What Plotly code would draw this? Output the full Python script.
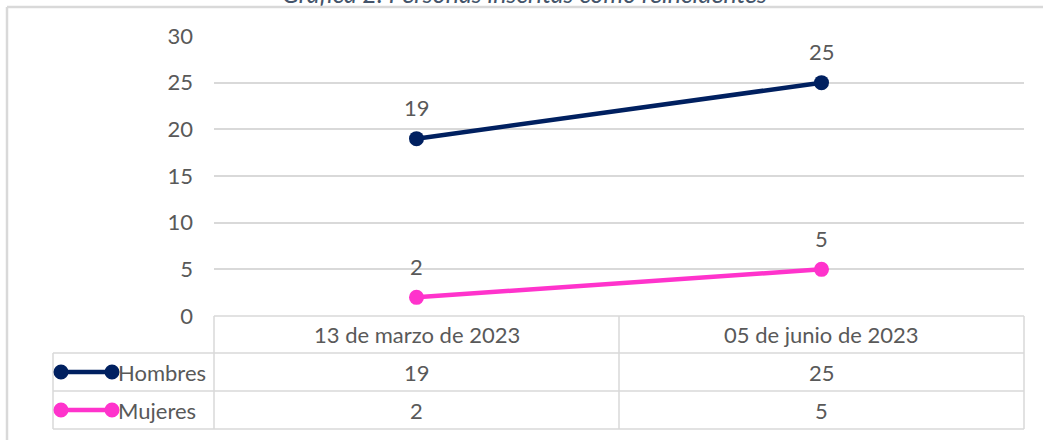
import plotly.graph_objects as go

categories = ["13 de marzo de 2023", "05 de junio de 2023"]
hombres = [19, 25]
mujeres = [2, 5]
series_names = ["Hombres", "Mujeres"]
series_colors = ["#002060", "#FF33CC"]
y_ticks = [0, 5, 10, 15, 20, 25, 30]
title_text = "Gráfica 2. Personas inscritas como reincidentes"

W, H = 1043, 440
FONT = "Lato"
FS = 22
TXT = "#595959"
GRID = "#D9D9D9"

def px(x):
    return x / W

def py(y):
    return 1 - y / H

fig = go.Figure()
for name, vals, col in zip(series_names, [hombres, mujeres], series_colors):
    fig.add_trace(go.Scatter(
        x=categories, y=vals, mode="lines+markers", name=name,
        line=dict(color=col, width=4.5),
        marker=dict(color=col, size=15),
        showlegend=False, cliponaxis=False,
    ))
    for c, v in zip(categories, vals):
        fig.add_annotation(x=c, y=v, xref="x", yref="y", text=str(v),
                           showarrow=False, yshift=31, xanchor="center", yanchor="middle",
                           font=dict(family=FONT, size=FS, color=TXT))

shapes = []
def line(x0, y0, x1, y1, color=GRID, w=1.5):
    shapes.append(dict(type="line", xref="paper", yref="paper",
                       x0=px(x0), y0=py(y0), x1=px(x1), y1=py(y1),
                       line=dict(color=color, width=w)))

# outer frame
line(7, 7, W, 7, w=2.5)
line(7, 7, 7, H, w=2.5)
# table
line(214, 316, 1024, 316)
for yy in [353, 391, 429]:
    line(53, yy, 1024, yy)
for xx in [214, 619, 1024]:
    line(xx, 316, xx, 429)
line(53, 353, 53, 429)

# legend keys in table
row_y = [372, 410]
for ry, col in zip(row_y, series_colors):
    shapes.append(dict(type="line", xref="paper", yref="paper",
                       x0=px(61), y0=py(ry), x1=px(112), y1=py(ry),
                       line=dict(color=col, width=4.5)))
    for cx in [61, 112]:
        shapes.append(dict(type="circle", xref="paper", yref="paper",
                           x0=px(cx - 7.5), x1=px(cx + 7.5),
                           y0=py(ry + 7.5), y1=py(ry - 7.5),
                           fillcolor=col, line=dict(color=col, width=0)))

# table text
for c in categories:
    fig.add_annotation(x=c, xref="x", y=py(334), yref="paper", text=c,
                       xanchor="center", yanchor="middle",
                       showarrow=False, font=dict(family=FONT, size=FS, color=TXT))
for ry, name, vals in zip(row_y, series_names, [hombres, mujeres]):
    fig.add_annotation(x=px(116), xref="paper", y=py(ry), yref="paper", text=name,
                       xanchor="left", yanchor="middle", showarrow=False,
                       font=dict(family=FONT, size=FS, color=TXT))
    for c, v in zip(categories, vals):
        fig.add_annotation(x=c, xref="x", y=py(ry), yref="paper", text=str(v),
                           xanchor="center", yanchor="middle",
                           showarrow=False, font=dict(family=FONT, size=FS, color=TXT))

# title (cut off at top, as in the source)
fig.add_annotation(x=px(524), xref="paper", y=py(10), yref="paper", yanchor="bottom",
                   xanchor="center",
                   text="<i>" + title_text + "</i>", showarrow=False,
                   font=dict(family=FONT, size=25, color="#44546A"))

fig.update_layout(
    template="none",
    width=W, height=H,
    margin=dict(l=0, r=0, t=0, b=0, pad=0, autoexpand=False),
    paper_bgcolor="white", plot_bgcolor="white",
    shapes=shapes,
    xaxis=dict(domain=[px(214), px(1024)], range=[-0.5, 1.5], type="category",
               showticklabels=False, showgrid=False, zeroline=False, showline=False,
               automargin=False, ticks=""),
    yaxis=dict(domain=[py(316), py(36)], range=[0, 30], tickvals=y_ticks,
               showgrid=True, gridcolor=GRID, gridwidth=1.5, zeroline=False,
               showline=False, ticks="", ticklabelstandoff=20, automargin=False,
               tickfont=dict(family=FONT, size=FS, color=TXT)),
)

fig.write_html("out.html", config={"displayModeBar": False},
               post_script="document.body.style.margin='0';document.body.style.overflow='hidden';")
